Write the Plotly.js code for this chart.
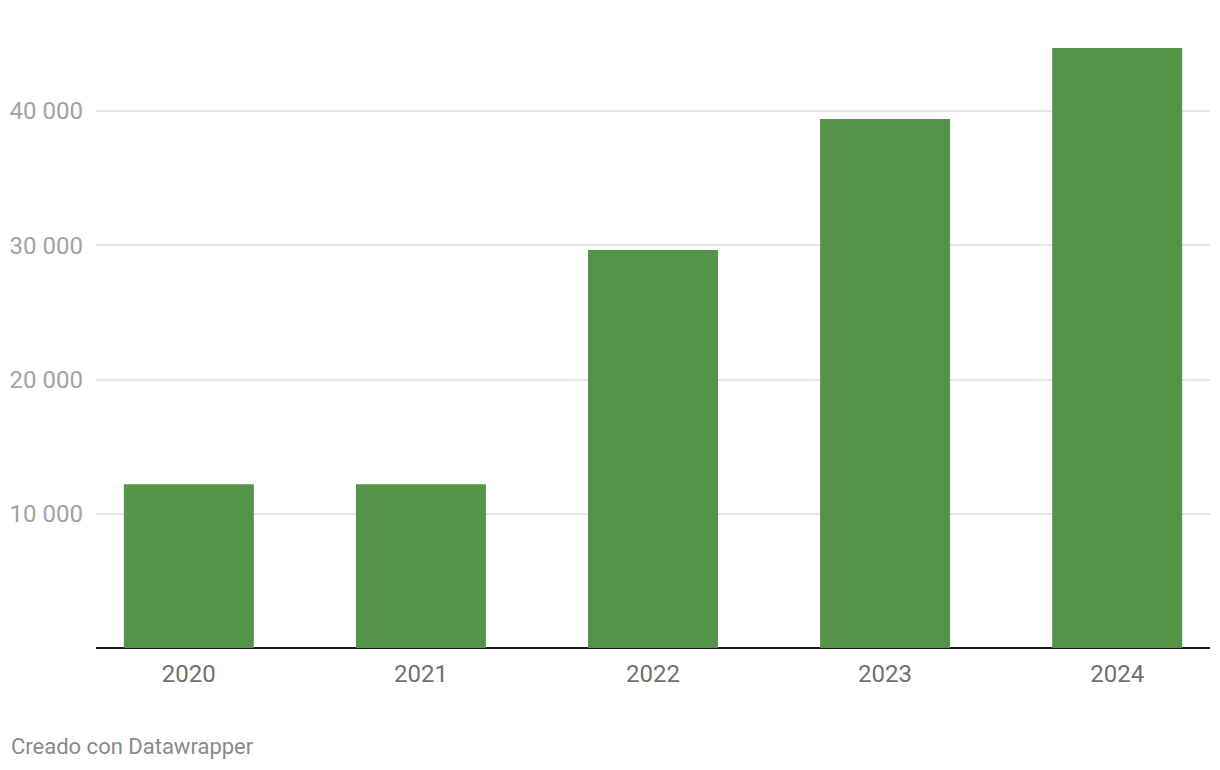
<!DOCTYPE html>
<html>
<head>
<meta charset="utf-8">
<script src="https://cdn.plot.ly/plotly-3.0.1.min.js"></script>
<style>
html,body{margin:0;padding:0;background:#fff;}
#chart{width:1220px;height:770px;}
</style>
</head>
<body>
<div id="chart"></div>
<script>
const years = ["2020", "2021", "2022", "2023", "2024"];
const values = [12200, 12200, 29650, 39400, 44700];
const yTickVals = [10000, 20000, 30000, 40000];
const yTickText = ["10 000", "20 000", "30 000", "40 000"];
const footerText = "Creado con Datawrapper";

const trace = {
  type: "bar",
  x: years,
  y: values,
  marker: {color: "#559448", line: {width: 0}},
  hoverinfo: "none"
};

const layout = {
  width: 1220,
  height: 770,
  margin: {l: 96, r: 10, t: 4, b: 122},
  paper_bgcolor: "#fff",
  plot_bgcolor: "#fff",
  bargap: 0.44,
  showlegend: false,
  font: {family: "Roboto, sans-serif"},
  xaxis: {
    type: "category",
    range: [-0.4, 4.4],
    showgrid: false,
    zeroline: false,
    showline: false,
    ticks: "",
    tickfont: {size: 24, color: "#707070"},
    ticklabelstandoff: 9,
    fixedrange: true
  },
  yaxis: {
    range: [0, 47970],
    tickvals: yTickVals,
    ticktext: yTickText,
    showgrid: true,
    gridcolor: "#e6e6e6",
    gridwidth: 2,
    zeroline: true,
    zerolinecolor: "#1a1a1a",
    zerolinewidth: 2,
    showline: false,
    ticks: "",
    tickfont: {size: 24, color: "#a3a3a3"},
    ticklabelstandoff: 12,
    fixedrange: true
  },
  annotations: [{
    text: footerText,
    xref: "paper", yref: "paper",
    x: 0, y: 0,
    xshift: -87, yshift: -84,
    xanchor: "left", yanchor: "top",
    showarrow: false,
    font: {size: 22, color: "#8a8a8a", family: "Roboto, sans-serif"}
  }]
};

Plotly.newPlot("chart", [trace], layout, {displayModeBar: false, staticPlot: true});
</script>
</body>
</html>
